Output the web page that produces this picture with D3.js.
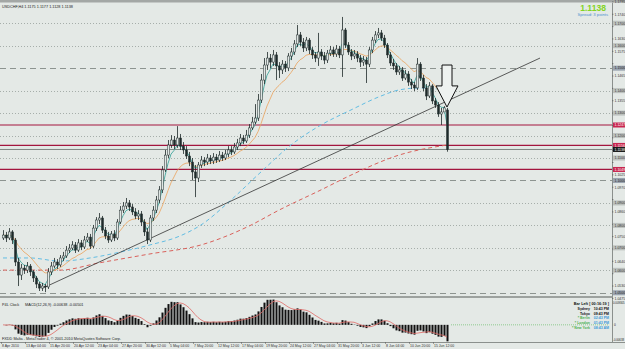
<!DOCTYPE html>
<html>
<head>
<meta charset="utf-8">
<script src="https://cdn.jsdelivr.net/npm/d3@7"></script>
<style>
  body { margin: 0; background: #e4e9e6; }
  svg { display: block; font-family: "Liberation Sans", Arial, sans-serif; }
</style>
</head>
<body>
<div id="chart"></div>
<script>
// USDCHF H4, one candle here = two H4 bars. Prices in pips: price = 1 + v / 10000
const openPips = [
  744,757,744,771,735,637,579,610,601,619,
  593,566,539,521,530,526,593,619,637,624,
  655,664,690,699,713,690,722,704,735,748,
  708,788,824,833,779,753,735,762,744,815,
  868,886,900,882,860,842,851,815,771,735,
  833,868,913,958,1047,1113,1158,1180,1158,1189,
  1153,1136,1109,1082,1038,1011,1069,1091,1082,1100,
  1087,1104,1091,1113,1100,1118,1136,1127,1149,1167,
  1189,1176,1202,1234,1260,1278,1358,1447,1514,1545,
  1527,1559,1510,1492,1518,1501,1554,1572,1608,1648,
  1616,1590,1625,1581,1559,1545,1572,1554,1536,1567,
  1581,1563,1585,1559,1670,1603,1572,1554,1563,1545,
  1527,1536,1518,1581,1625,1648,1657,1634,1603,1559,
  1523,1510,1483,1492,1456,1474,1438,1425,1412,1518,
  1456,1412,1376,1421,1354,1336,1296,1305,1314];
const highPips = [
  779,771,788,779,744,655,628,624,637,628,
  601,575,548,544,539,610,637,655,650,668,
  682,708,717,730,726,739,735,753,766,762,
  802,837,855,842,793,771,775,779,828,886,
  904,922,913,895,877,868,864,828,788,846,
  886,931,975,1064,1136,1180,1202,1198,1242,1207,
  1171,1153,1127,1100,1069,1082,1109,1104,1118,1113,
  1122,1118,1131,1127,1136,1153,1153,1167,1185,1207,
  1202,1225,1251,1283,1340,1385,1474,1545,1572,1563,
  1581,1572,1527,1536,1532,1567,1590,1625,1692,1661,
  1634,1639,1634,1594,1572,1657,1585,1572,1581,1599,
  1594,1603,1599,1728,1679,1616,1585,1581,1576,1559,
  1554,1550,1594,1639,1665,1679,1670,1648,1612,1572,
  1541,1523,1510,1505,1492,1487,1452,1438,1545,1527,
  1470,1429,1438,1429,1367,1349,1323,1331,1323];
const lowPips = [
  735,726,735,717,619,530,557,584,588,575,
  548,521,508,508,503,517,579,610,606,615,
  641,655,677,690,677,682,690,695,726,695,
  699,775,806,766,739,722,726,730,735,806,
  855,873,864,846,828,824,797,753,717,726,
  820,855,900,944,1038,1100,1145,1140,1145,1136,
  1118,1096,1064,1002,926,993,1056,1064,1069,1073,
  1073,1078,1082,1087,1091,1104,1113,1118,1136,1153,
  1162,1167,1189,1225,1251,1265,1345,1429,1492,1501,
  1510,1447,1456,1474,1483,1487,1536,1559,1594,1599,
  1572,1576,1563,1541,1527,1510,1536,1518,1523,1554,
  1550,1550,1545,1461,1590,1559,1536,1541,1527,1505,
  1510,1434,1505,1567,1612,1634,1621,1590,1545,1510,
  1492,1470,1470,1443,1447,1421,1407,1398,1403,1443,
  1398,1358,1367,1340,1323,1283,1247,1305,1128];
const closePips = [
  757,744,771,735,637,579,610,601,619,593,
  566,539,521,530,526,593,619,637,624,655,
  664,690,699,713,690,722,704,735,748,708,
  788,824,833,779,753,735,762,744,815,868,
  886,900,882,860,842,851,815,771,735,833,
  868,913,958,1047,1113,1158,1180,1158,1189,1153,
  1136,1109,1082,1038,1011,1069,1091,1082,1100,1087,
  1104,1091,1113,1100,1118,1136,1127,1149,1167,1189,
  1176,1202,1234,1260,1278,1358,1447,1514,1545,1527,
  1559,1510,1492,1518,1501,1554,1572,1608,1648,1616,
  1590,1625,1581,1559,1545,1572,1554,1536,1567,1581,
  1563,1585,1559,1670,1603,1572,1554,1563,1545,1527,
  1536,1518,1581,1625,1648,1657,1634,1603,1559,1523,
  1510,1483,1492,1456,1474,1438,1425,1412,1518,1456,
  1412,1376,1421,1354,1336,1296,1305,1323,1138];

// long moving averages (bar index, pips)
const blueMaBars = [0, 9, 19, 29, 39, 49, 59, 66, 76, 86, 96, 106, 116, 126, 132, 139, 148];
const blueMaPips = [655, 655, 641, 655, 681, 713, 753, 802, 913, 1038, 1158, 1247, 1314, 1376, 1403, 1412, 1403];
const redMaBars = [0, 19, 32, 49, 66, 82, 92, 106, 116, 132, 148];
const redMaPips = [601, 601, 633, 673, 713, 797, 868, 958, 1024, 1113, 1158];

// drawn objects
const trendBars = [13.3, 179];
const trendPrices = [1.0521, 1.1545];
const redLevels = [1.1247, 1.1156, 1.1049];
const dashedLevels = [1.15, 1.10, 1.05];
const gridLevels = [1.17, 1.16, 1.14, 1.13, 1.12, 1.11, 1.09, 1.08, 1.07, 1.06];
const bidPrice = 1.1138;
const arrowBar = 148, arrowTop = 1.1514, arrowNeck = 1.1421, arrowTip = 1.1327;

const priceTicks = [1.0475,1.0530,1.0585,1.0640,1.0695,1.0750,1.0805,1.0860,1.0915,1.0970,
  1.1025,1.1080,1.1135,1.1190,1.1245,1.1300,1.1355,1.1410,1.1465,1.1520,1.1575,1.1630,
  1.1685,1.1740,1.1795];
const timeLabels = ['8 Apr 2010','13 Apr 04:00','15 Apr 20:00','20 Apr 12:00','23 Apr 04:00',
  '27 Apr 20:00','30 Apr 12:00','5 May 04:00','7 May 20:00','12 May 12:00','17 May 04:00',
  '19 May 20:00','24 May 12:00','27 May 04:00','31 May 20:00','3 Jun 12:00','8 Jun 04:00',
  '10 Jun 20:00','15 Jun 12:00'];
const barsPerLabel = 8;

const macdDomain = [-0.00638, 0.009305];
const clockNames = ['Sydney', 'Tokyo', '* Berlin', '* London', '* New York'];
const clockTimes = ['10:43 PM', '09:43 PM', '02:43 PM', '01:43 PM', '08:43 AM'];

const W = 625, H = 349;
const plotRight = 612, mainTop = 3, mainBottom = 296;
const macdTop = 298, macdBottom = 342;
const N = closePips.length;
const px = (v) => 1 + v / 10000;

const svg = d3.select('#chart').append('svg').attr('width', W).attr('height', H);
svg.append('rect').attr('width', W).attr('height', H).attr('fill', '#e4e9e6');
svg.append('rect').attr('width', W).attr('height', 2.5).attr('fill', '#a3a7a5');

const x = d3.scaleLinear().domain([0, N - 1]).range([3, 3 + (N - 1) * 3]);
const y = d3.scaleLinear().domain([1.0475, 1.1795]).range([298.4, 1.9]);

svg.append('clipPath').attr('id', 'mainClip')
  .append('rect').attr('x', 0).attr('y', mainTop).attr('width', plotRight).attr('height', mainBottom - mainTop);
const main = svg.append('g').attr('clip-path', 'url(#mainClip)');

// grid and levels
main.selectAll('.grid').data(gridLevels).join('line')
  .attr('x1', 0).attr('x2', plotRight)
  .attr('y1', (d) => Math.round(y(d)) + 0.5).attr('y2', (d) => Math.round(y(d)) + 0.5)
  .attr('stroke', '#a6aeaa').attr('stroke-dasharray', '1,2');
main.selectAll('.dash').data(dashedLevels).join('line')
  .attr('x1', 0).attr('x2', plotRight)
  .attr('y1', (d) => Math.round(y(d)) + 0.5).attr('y2', (d) => Math.round(y(d)) + 0.5)
  .attr('stroke', '#8d9490').attr('stroke-dasharray', '6,4');
main.append('line')
  .attr('x1', 0).attr('x2', plotRight).attr('y1', y(bidPrice)).attr('y2', y(bidPrice))
  .attr('stroke', '#7e8581').attr('stroke-width', 1);
main.selectAll('.red').data(redLevels).join('line')
  .attr('x1', 0).attr('x2', plotRight).attr('y1', (d) => y(d)).attr('y2', (d) => y(d))
  .attr('stroke', '#a3163f').attr('stroke-width', 1.2);

// long MAs
const maLine = d3.line().x((d) => x(d[0])).y((d) => y(px(d[1]))).curve(d3.curveMonotoneX);
main.append('path').datum(d3.zip(redMaBars, redMaPips)).attr('d', maLine)
  .attr('fill', 'none').attr('stroke', '#d9615b').attr('stroke-width', 1).attr('stroke-dasharray', '4,3');
main.append('path').datum(d3.zip(blueMaBars, blueMaPips)).attr('d', maLine)
  .attr('fill', 'none').attr('stroke', '#63bde3').attr('stroke-width', 1).attr('stroke-dasharray', '4,3');

// trend line
main.append('line')
  .attr('x1', x(trendBars[0])).attr('y1', y(trendPrices[0]))
  .attr('x2', x(trendBars[1])).attr('y2', y(trendPrices[1]))
  .attr('stroke', '#333').attr('stroke-width', 0.8);

// short MAs from closes
function ema(values, period) {
  const k = 2 / (period + 1);
  let prev = values[0];
  return values.map((v) => (prev = prev + k * (v - prev)));
}
const closes = closePips.map(px);
const lineXY = d3.line().x((d, i) => x(i)).y((d) => y(d));
main.append('path').datum(ema(closes, 12)).attr('d', lineXY)
  .attr('fill', 'none').attr('stroke', '#eba25c').attr('stroke-width', 0.8);
main.append('path').datum(ema(closes, 4)).attr('d', lineXY)
  .attr('fill', 'none').attr('stroke', '#2f9e96').attr('stroke-width', 0.8);

// candles
const candles = d3.range(N).map((i) => ({
  i, o: px(openPips[i]), h: px(highPips[i]), l: px(lowPips[i]), c: px(closePips[i]),
}));
const cg = main.append('g');
cg.selectAll('line').data(candles).join('line')
  .attr('x1', (d) => x(d.i) + 0.5).attr('x2', (d) => x(d.i) + 0.5)
  .attr('y1', (d) => y(d.h)).attr('y2', (d) => y(d.l))
  .attr('stroke', '#1e2a2a').attr('stroke-width', 0.8);
cg.selectAll('rect').data(candles).join('rect')
  .attr('x', (d) => x(d.i) - 0.5).attr('width', 2)
  .attr('y', (d) => y(Math.max(d.o, d.c)))
  .attr('height', (d) => Math.max(0.8, Math.abs(y(d.o) - y(d.c))))
  .attr('fill', (d) => (d.c >= d.o ? '#dfe6e4' : '#1e2a2a'))
  .attr('stroke', '#1e2a2a').attr('stroke-width', 0.5);

// arrow
const ax = x(arrowBar);
const arrowPts = [
  [ax - 5, y(arrowTop)], [ax + 5, y(arrowTop)], [ax + 5, y(arrowNeck)], [ax + 11, y(arrowNeck)],
  [ax, y(arrowTip)], [ax - 11, y(arrowNeck)], [ax - 5, y(arrowNeck)],
];
main.append('polygon').attr('points', arrowPts.map((p) => p.join(',')).join(' '))
  .attr('fill', '#eef2f0').attr('stroke', '#111').attr('stroke-width', 1);

// frame
svg.append('line').attr('x1', plotRight + 0.5).attr('x2', plotRight + 0.5).attr('y1', mainTop).attr('y2', macdBottom)
  .attr('stroke', '#8b908d');
svg.append('rect').attr('x', 0).attr('y', mainBottom).attr('width', plotRight).attr('height', macdTop - mainBottom)
  .attr('fill', '#9da29f');
svg.append('line').attr('x1', 0).attr('x2', W).attr('y1', macdBottom + 0.5).attr('y2', macdBottom + 0.5)
  .attr('stroke', '#8b908d');

// price axis: boxed levels first, plain ticks skipped where a box sits
const boxLevels = [...gridLevels, ...dashedLevels, ...redLevels, bidPrice];
const freeTicks = priceTicks.filter((t) => boxLevels.every((b) => Math.abs(y(t) - y(b)) > 5.2));
const axisG = svg.append('g').attr('font-size', 3.5).attr('fill', '#333');
axisG.selectAll('text').data(freeTicks).join('text')
  .attr('x', 614.5).attr('y', (d) => y(d) + 1.3).text((d) => d.toFixed(4));
axisG.selectAll('line').data(priceTicks).join('line')
  .attr('x1', plotRight).attr('x2', plotRight + 1.5).attr('y1', (d) => y(d)).attr('y2', (d) => y(d))
  .attr('stroke', '#444').attr('stroke-width', 0.5);

function priceBox(price, fill, color) {
  svg.append('rect').attr('x', plotRight + 1).attr('y', y(price) - 2.5).attr('width', W - plotRight - 1).attr('height', 5)
    .attr('fill', fill);
  svg.append('text').attr('x', 614.5).attr('y', y(price) + 1.3).attr('font-size', 3.5).attr('fill', color)
    .text(price.toFixed(4));
}
gridLevels.forEach((p) => priceBox(p, '#bcc1be', '#333'));
dashedLevels.forEach((p) => priceBox(p, '#9aa4b0', '#222'));
redLevels.forEach((p) => priceBox(p, '#c8264f', '#fff'));
priceBox(bidPrice, '#1a1a1a', '#fff');

// MACD panel
const ema6 = ema(closes, 6), ema13 = ema(closes, 13);
const macd = ema6.map((v, i) => v - ema13[i]);
const signal = macd.map((v, i) => d3.mean(macd.slice(Math.max(0, i - 4), i + 1)));
const ym = d3.scaleLinear().domain(macdDomain).range([340.5, 302]);
svg.append('clipPath').attr('id', 'macdClip')
  .append('rect').attr('x', 0).attr('y', macdTop).attr('width', plotRight).attr('height', macdBottom - macdTop);
const mg = svg.append('g').attr('clip-path', 'url(#macdClip)');
mg.selectAll('rect').data(macd).join('rect')
  .attr('x', (d, i) => x(i) - 0.5).attr('width', 2)
  .attr('y', (d) => Math.min(ym(d), ym(0))).attr('height', (d) => Math.abs(ym(d) - ym(0)))
  .attr('fill', '#111');
mg.append('path').datum(signal).attr('d', d3.line().x((d, i) => x(i)).y((d) => ym(d)))
  .attr('fill', 'none').attr('stroke', '#e06a66').attr('stroke-width', 0.8);
mg.append('line').attr('x1', x(N - 1) + 4).attr('x2', 609).attr('y1', ym(0)).attr('y2', ym(0))
  .attr('stroke', '#55b955').attr('stroke-width', 0.6).attr('stroke-dasharray', '1,1');

const small = svg.append('g').attr('font-size', 3.8).attr('fill', '#222');
small.append('text').attr('x', 2).attr('y', 305.5).text('P4L Clock');
small.append('text').attr('x', 25).attr('y', 305.5).text('MACD(12,26,9) -0.00638 -0.00501');
small.append('text').attr('x', 2).attr('y', 339.8)
  .text('FXDD Malta - MetaTrader 4, \u00a9 2001-2010 MetaQuotes Software Corp.');
small.append('text').attr('x', 2).attr('y', 8).text('USDCHF,H4  1.1175 1.1177 1.1128 1.1138');
small.append('text').attr('x', 613).attr('y', 303.5).attr('font-size', 2.8).text(macdDomain[1].toFixed(6));
small.append('text').attr('x', 614).attr('y', 326.2).attr('font-size', 3.2).text('0');
small.append('text').attr('x', 613).attr('y', 341.2).attr('font-size', 2.8).text(macdDomain[0].toFixed(5));

// clock box
const clock = svg.append('g').attr('font-size', 3.5).attr('font-weight', 'bold');
clock.append('text').attr('x', 609).attr('y', 305.2).attr('text-anchor', 'end').attr('fill', '#111')
  .attr('font-size', 3.8).text('Bar Left [ 00:16:19 ]');
clockNames.forEach((name, k) => {
  const yy = 309.8 + k * 4.8;
  clock.append('text').attr('x', 590).attr('y', yy).attr('text-anchor', 'end')
    .attr('fill', k < 2 ? '#111' : '#4cb050').text(name);
  clock.append('text').attr('x', 609).attr('y', yy).attr('text-anchor', 'end')
    .attr('fill', k < 2 ? '#111' : '#3c9ad8').text(clockTimes[k]);
});

// price readout top right
svg.append('text').attr('x', 606).attr('y', 10.6).attr('text-anchor', 'end')
  .attr('font-size', 8.6).attr('font-weight', 'bold').attr('fill', '#82d424').text(bidPrice.toFixed(4));
svg.append('text').attr('x', 608).attr('y', 15.6).attr('text-anchor', 'end')
  .attr('font-size', 4.2).attr('fill', '#4f8fcf').text('Spread: 3 points');

// time axis
const tg = svg.append('g');
tg.selectAll('text').data(timeLabels).join('text')
  .attr('x', (d, k) => x(k * barsPerLabel) - 1).attr('y', 347.4)
  .attr('font-size', 3.5).attr('fill', '#333').text((d) => d);
tg.selectAll('line').data(timeLabels).join('line')
  .attr('x1', (d, k) => x(k * barsPerLabel) - 1.5).attr('x2', (d, k) => x(k * barsPerLabel) - 1.5)
  .attr('y1', macdBottom).attr('y2', macdBottom + 2)
  .attr('stroke', '#555').attr('stroke-width', 0.5);
</script>
</body>
</html>
